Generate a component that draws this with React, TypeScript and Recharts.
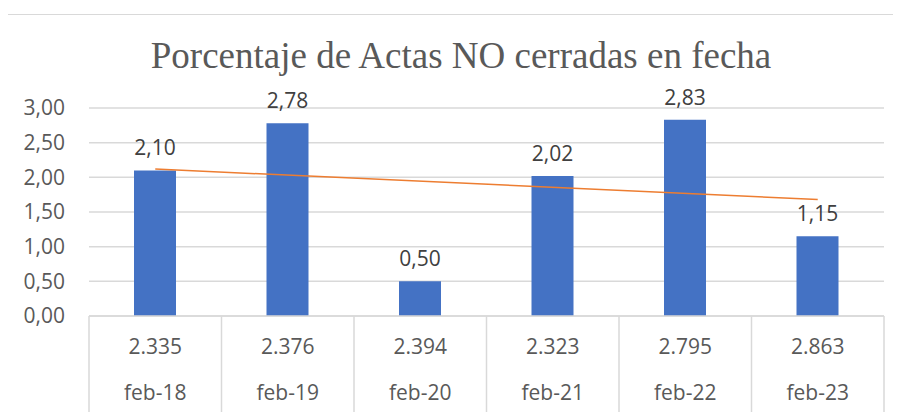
import { Bar, CartesianGrid, ComposedChart, LabelList, Line, XAxis, YAxis } from 'recharts';

const categories = ['feb-18', 'feb-19', 'feb-20', 'feb-21', 'feb-22', 'feb-23'];
const totals = ['2.335', '2.376', '2.394', '2.323', '2.795', '2.863'];
const values = [2.1, 2.78, 0.5, 2.02, 2.83, 1.15];
// tendencia lineal (sólo extremos)
const trend = [2.12, null, null, null, null, 1.68];
const yTicks = [0, 0.5, 1, 1.5, 2, 2.5, 3];

const data = categories.map((name, i) => ({
  name,
  total: totals[i],
  value: values[i],
  trend: trend[i],
}));

const fmt = (v: number) => v.toFixed(2).replace('.', ',');
const GRID = '#d9d9d9';
const TEXT = '#595959';
const SANS = '"Open Sans", "Liberation Sans", sans-serif';

function TableTick(props: any) {
  const { x, y, payload, index, width } = props;
  const band = (width ?? 795) / categories.length;
  const left = x - band / 2;
  const right = x + band / 2;
  const top = y - 8;
  return (
    <g>
      <line x1={left} y1={top} x2={left} y2={top + 120} stroke={GRID} strokeWidth={1.5} />
      {index === categories.length - 1 && (
        <line x1={right} y1={top} x2={right} y2={top + 120} stroke={GRID} strokeWidth={1.5} />
      )}
      <text x={x} y={y + 30} textAnchor="middle" fontSize={21} fill={TEXT} fontFamily={SANS}>
        {data[index].total}
      </text>
      <text x={x} y={y + 76} textAnchor="middle" fontSize={21} fill={TEXT} fontFamily={SANS}>
        {payload.value}
      </text>
    </g>
  );
}

export default function App() {
  return (
    <div style={{ position: 'relative', width: 893, height: 404, overflow: 'hidden' }}>
      <div
        style={{
          position: 'absolute',
          left: -1,
          top: 6,
          width: 900,
          height: 440,
          border: `1.5px solid ${GRID}`,
        }}
      />
      <div
        style={{
          position: 'absolute',
          left: 0,
          top: 27,
          width: 893,
          textAlign: 'center',
          fontFamily: '"Liberation Serif", "DejaVu Serif", serif',
          fontSize: 37,
          color: TEXT,
          lineHeight: '42px',
          paddingLeft: 13,
          boxSizing: 'border-box',
        }}
      >
        Porcentaje de Actas NO cerradas en fecha
      </div>
      <ComposedChart
        width={893}
        height={404}
        data={data}
        margin={{ top: 100, right: 17, left: 0, bottom: 0 }}
        style={{ position: 'absolute', left: 0, top: 0 }}
      >
        <CartesianGrid vertical={false} stroke={GRID} strokeWidth={1.5} />
        <XAxis
          dataKey="name"
          height={96}
          tickLine={false}
          axisLine={{ stroke: GRID, strokeWidth: 1.5 }}
          tick={<TableTick />}
          interval={0}
        />
        <YAxis
          width={81}
          domain={[0, 3]}
          ticks={yTicks}
          tickFormatter={fmt}
          axisLine={false}
          tickLine={false}
          tickMargin={18}
          tick={{ fontSize: 21, fill: TEXT, fontFamily: SANS }}
        />
        <Bar dataKey="value" fill="#4472C4" barSize={42} isAnimationActive={false}>
          <LabelList
            dataKey="value"
            position="top"
            offset={15}
            formatter={(v: any) => fmt(Number(v))}
            style={{ fontSize: 21, fill: '#404040', fontFamily: SANS }}
          />
        </Bar>
        <Line
          dataKey="trend"
          stroke="#ED7D31"
          strokeWidth={1.5}
          dot={false}
          activeDot={false}
          connectNulls
          isAnimationActive={false}
        />
      </ComposedChart>
    </div>
  );
}
